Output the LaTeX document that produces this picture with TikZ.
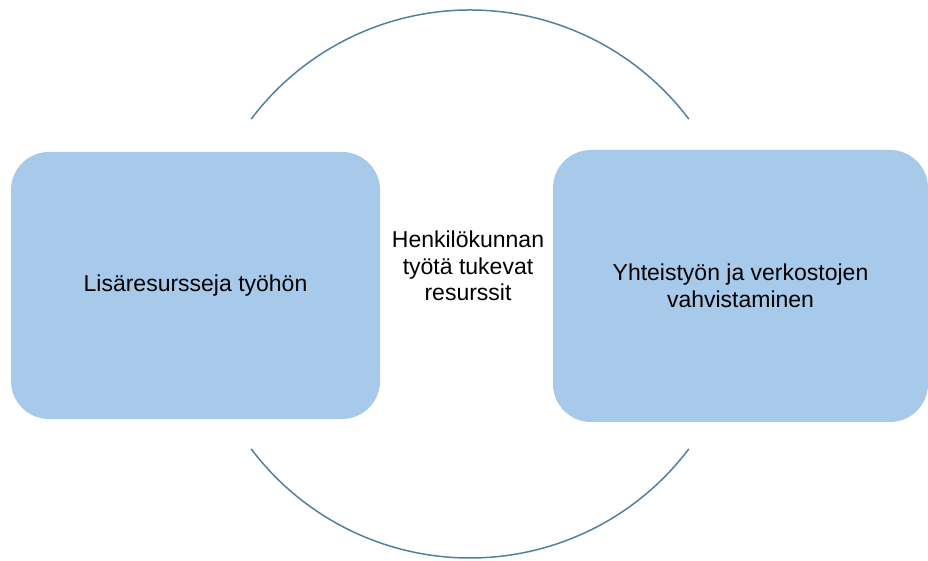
\documentclass[tikz,border=0pt]{standalone}
\usepackage{fontspec}
\setmainfont{Liberation Sans}
\usepackage{xcolor}
\usepackage{tikz}
\usetikzlibrary{positioning}

\definecolor{laatikko}{RGB}{167,201,234}
\definecolor{kaariviiva}{RGB}{80,130,160}

\tikzset{
    resurssi/.style={fill=laatikko, draw=none, rounded corners=38pt, inner sep=0pt, align=center,
        font=\fontsize{23}{26.5}\selectfont},
    kaari/.style={draw=kaariviiva, line width=1.5pt},
}

\begin{document}
\begin{tikzpicture}[x=1pt, y=1pt]
    \useasboundingbox (0, 0) rectangle (928, 561);

    \coordinate (keskus) at (470, 277);

    % kaaret ympyran ylä- ja alaosassa
    \draw[kaari] ([shift={(143:274)}]keskus) arc[start angle=143, end angle=37, radius=274];
    \draw[kaari] ([shift={(217:274)}]keskus) arc[start angle=217, end angle=323, radius=274];

    \node[resurssi, minimum width=369pt, minimum height=267pt] (lisa) at (195.5, 275.5) {Lisäresursseja työhön};
    \node[resurssi, minimum width=375pt, minimum height=272pt] (verkosto) at (740.5, 275) {Yhteistyön ja verkostojen\\vahvistaminen};

    \node[align=center, inner sep=0pt, font=\fontsize{23}{26.5}\selectfont] (tuki) at (468, 295) {Henkilökunnan\\työtä tukevat\\resurssit};
\end{tikzpicture}
\end{document}
